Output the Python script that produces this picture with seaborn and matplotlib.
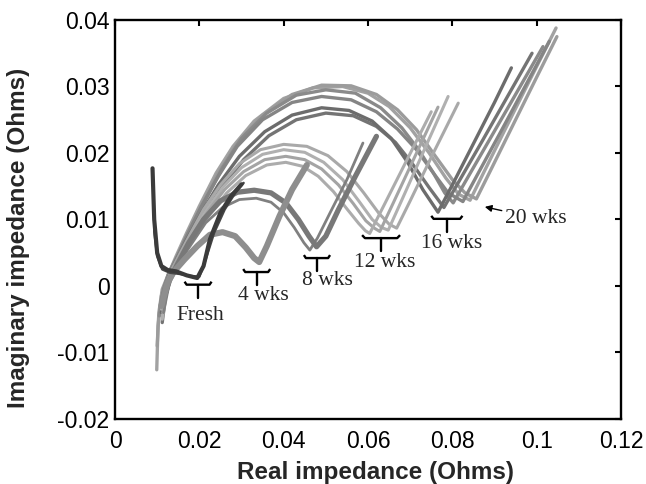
import matplotlib
matplotlib.use("Agg")
import matplotlib.pyplot as plt
import seaborn as sns
import pandas as pd

# ---------------- data ----------------
fresh_a_x = [0.0089, 0.0093, 0.0100, 0.0110, 0.0125, 0.0145, 0.0170, 0.0195, 0.0210, 0.0225, 0.0250, 0.0275, 0.0300]
fresh_a_y = [0.0177, 0.0100, 0.0050, 0.0030, 0.0024, 0.0022, 0.0016, 0.0012, 0.0030, 0.0070, 0.0110, 0.0135, 0.0153]
fresh_b_x = [0.0093, 0.0100, 0.0112, 0.0130, 0.0155, 0.0180, 0.0200, 0.0215, 0.0235, 0.0260, 0.0285, 0.0305]
fresh_b_y = [0.0083, 0.0045, 0.0025, 0.0020, 0.0018, 0.0015, 0.0014, 0.0040, 0.0080, 0.0115, 0.0140, 0.0155]

wk4_x = [0.0110, 0.0125, 0.0140, 0.0165, 0.0195, 0.0225, 0.0255, 0.0285, 0.0310, 0.0330, 0.0342, 0.0360, 0.0390, 0.0420, 0.0455]
wk4_y = [-0.0030, 0.0005, 0.0022, 0.0040, 0.0060, 0.0077, 0.0081, 0.0075, 0.0058, 0.0042, 0.0036, 0.0060, 0.0105, 0.0145, 0.0182]

wk8_a_x = [0.0115, 0.0130, 0.0150, 0.0175, 0.0210, 0.0250, 0.0290, 0.0330, 0.0370, 0.0405, 0.0435, 0.0460, 0.0478, 0.0500, 0.0530, 0.0570, 0.0620]
wk8_a_y = [-0.0020, 0.0010, 0.0035, 0.0065, 0.0100, 0.0128, 0.0141, 0.0144, 0.0140, 0.0125, 0.0100, 0.0075, 0.0059, 0.0075, 0.0115, 0.0165, 0.0225]
wk8_b_x = [0.0115, 0.0130, 0.0150, 0.0180, 0.0215, 0.0255, 0.0295, 0.0335, 0.0370, 0.0400, 0.0425, 0.0448, 0.0462, 0.0480, 0.0510, 0.0550, 0.0588]
wk8_b_y = [-0.0040, 0.0008, 0.0033, 0.0062, 0.0095, 0.0118, 0.0130, 0.0132, 0.0126, 0.0110, 0.0088, 0.0065, 0.0054, 0.0072, 0.0110, 0.0160, 0.0215]

wk12_a_x = [0.0110, 0.0120, 0.0135, 0.0155, 0.0180, 0.0210, 0.0250, 0.0295, 0.0345, 0.0400, 0.0455, 0.0505, 0.0550, 0.0590, 0.0625, 0.0650, 0.0668, 0.0700, 0.0755, 0.0814]
wk12_a_y = [-0.0035, 0.0000, 0.0025, 0.0050, 0.0080, 0.0115, 0.0152, 0.0184, 0.0205, 0.0213, 0.0210, 0.0196, 0.0172, 0.0140, 0.0110, 0.0093, 0.0087, 0.0128, 0.0200, 0.0275]
wk12_b_x = [0.0112, 0.0122, 0.0137, 0.0158, 0.0184, 0.0215, 0.0255, 0.0300, 0.0350, 0.0400, 0.0450, 0.0495, 0.0540, 0.0578, 0.0610, 0.0632, 0.0648, 0.0680, 0.0735, 0.0790]
wk12_b_y = [-0.0050, -0.0008, 0.0022, 0.0048, 0.0078, 0.0112, 0.0148, 0.0178, 0.0198, 0.0205, 0.0201, 0.0186, 0.0160, 0.0128, 0.0100, 0.0088, 0.0084, 0.0129, 0.0207, 0.0285]
wk12_c_x = [0.0113, 0.0123, 0.0138, 0.0160, 0.0187, 0.0220, 0.0260, 0.0305, 0.0355, 0.0405, 0.0450, 0.0490, 0.0530, 0.0565, 0.0595, 0.0615, 0.0628, 0.0660, 0.0710, 0.0766]
wk12_c_y = [-0.0025, 0.0005, 0.0028, 0.0052, 0.0080, 0.0112, 0.0145, 0.0172, 0.0190, 0.0195, 0.0190, 0.0176, 0.0152, 0.0124, 0.0098, 0.0087, 0.0082, 0.0125, 0.0193, 0.0269]
wk12_d_x = [0.0114, 0.0124, 0.0140, 0.0162, 0.0190, 0.0225, 0.0265, 0.0310, 0.0360, 0.0405, 0.0445, 0.0482, 0.0518, 0.0550, 0.0578, 0.0594, 0.0604, 0.0640, 0.0695, 0.0750]
wk12_d_y = [-0.0040, -0.0003, 0.0025, 0.0050, 0.0078, 0.0108, 0.0140, 0.0166, 0.0182, 0.0186, 0.0180, 0.0165, 0.0142, 0.0116, 0.0094, 0.0083, 0.0079, 0.0124, 0.0193, 0.0262]

wk16_a_x = [0.0110, 0.0118, 0.0130, 0.0148, 0.0172, 0.0205, 0.0245, 0.0295, 0.0355, 0.0420, 0.0490, 0.0555, 0.0610, 0.0655, 0.0695, 0.0730, 0.0766, 0.0800, 0.0850, 0.0900, 0.0940]
wk16_a_y = [-0.0040, -0.0010, 0.0018, 0.0042, 0.0072, 0.0110, 0.0152, 0.0195, 0.0232, 0.0257, 0.0268, 0.0264, 0.0248, 0.0222, 0.0185, 0.0145, 0.0111, 0.0152, 0.0214, 0.0276, 0.0328]
wk16_b_x = [0.0112, 0.0120, 0.0133, 0.0152, 0.0178, 0.0212, 0.0255, 0.0305, 0.0365, 0.0430, 0.0500, 0.0565, 0.0620, 0.0665, 0.0705, 0.0745, 0.0780, 0.0820, 0.0870, 0.0930, 0.0989]
wk16_b_y = [-0.0055, -0.0015, 0.0015, 0.0040, 0.0070, 0.0108, 0.0150, 0.0190, 0.0226, 0.0250, 0.0260, 0.0256, 0.0240, 0.0216, 0.0184, 0.0148, 0.0118, 0.0162, 0.0217, 0.0284, 0.0350]

wk20_a_x = [0.0099, 0.0102, 0.0110, 0.0125, 0.0145, 0.0170, 0.0200, 0.0240, 0.0280, 0.0330, 0.0400, 0.0470, 0.0540, 0.0600, 0.0650, 0.0700, 0.0745, 0.0785, 0.0815, 0.0842, 0.0870, 0.0920, 0.0980, 0.1046]
wk20_a_y = [-0.0126, -0.0060, -0.0015, 0.0015, 0.0045, 0.0080, 0.0120, 0.0170, 0.0210, 0.0248, 0.0282, 0.0298, 0.0300, 0.0290, 0.0270, 0.0238, 0.0200, 0.0162, 0.0138, 0.0129, 0.0165, 0.0229, 0.0305, 0.0388]
wk20_b_x = [0.0105, 0.0110, 0.0120, 0.0135, 0.0155, 0.0180, 0.0215, 0.0255, 0.0300, 0.0360, 0.0430, 0.0500, 0.0570, 0.0630, 0.0680, 0.0720, 0.0755, 0.0782, 0.0802, 0.0830, 0.0880, 0.0940, 0.1015]
wk20_b_y = [-0.0045, -0.0020, 0.0005, 0.0025, 0.0050, 0.0085, 0.0130, 0.0178, 0.0222, 0.0260, 0.0287, 0.0295, 0.0290, 0.0268, 0.0238, 0.0205, 0.0170, 0.0140, 0.0125, 0.0156, 0.0211, 0.0277, 0.0360]
wk20_c_x = [0.0100, 0.0104, 0.0112, 0.0128, 0.0150, 0.0175, 0.0205, 0.0245, 0.0290, 0.0350, 0.0420, 0.0490, 0.0560, 0.0620, 0.0670, 0.0715, 0.0760, 0.0800, 0.0830, 0.0857, 0.0890, 0.0950, 0.1000, 0.1048]
wk20_c_y = [-0.0090, -0.0040, -0.0005, 0.0020, 0.0048, 0.0082, 0.0122, 0.0170, 0.0215, 0.0257, 0.0288, 0.0302, 0.0301, 0.0288, 0.0265, 0.0235, 0.0195, 0.0160, 0.0140, 0.0131, 0.0173, 0.0250, 0.0314, 0.0375]
wk20_d_x = [0.0108, 0.0115, 0.0128, 0.0148, 0.0172, 0.0205, 0.0245, 0.0290, 0.0350, 0.0420, 0.0490, 0.0560, 0.0620, 0.0670, 0.0715, 0.0755, 0.0790, 0.0825, 0.0860, 0.0920, 0.0975, 0.1030]
wk20_d_y = [-0.0030, -0.0005, 0.0020, 0.0045, 0.0078, 0.0120, 0.0165, 0.0210, 0.0250, 0.0276, 0.0285, 0.0280, 0.0262, 0.0236, 0.0205, 0.0170, 0.0140, 0.0127, 0.0168, 0.0238, 0.0303, 0.0368]

curve_names = ["wk20_a", "wk20_c", "wk20_b", "wk20_d", "wk16_b", "wk16_a",
               "wk12_a", "wk12_b", "wk12_c", "wk12_d",
               "wk8_b", "wk8_a", "wk4", "fresh_b", "fresh_a"]
curve_data = {
    "fresh_a": (fresh_a_x, fresh_a_y), "fresh_b": (fresh_b_x, fresh_b_y),
    "wk4": (wk4_x, wk4_y),
    "wk8_a": (wk8_a_x, wk8_a_y), "wk8_b": (wk8_b_x, wk8_b_y),
    "wk12_a": (wk12_a_x, wk12_a_y), "wk12_b": (wk12_b_x, wk12_b_y),
    "wk12_c": (wk12_c_x, wk12_c_y), "wk12_d": (wk12_d_x, wk12_d_y),
    "wk16_a": (wk16_a_x, wk16_a_y), "wk16_b": (wk16_b_x, wk16_b_y),
    "wk20_a": (wk20_a_x, wk20_a_y), "wk20_b": (wk20_b_x, wk20_b_y),
    "wk20_c": (wk20_c_x, wk20_c_y), "wk20_d": (wk20_d_x, wk20_d_y),
}

x_ticks = [0, 0.02, 0.04, 0.06, 0.08, 0.10, 0.12]
x_tick_labels = ["0", "0.02", "0.04", "0.06", "0.08", "0.1", "0.12"]
y_ticks = [-0.02, -0.01, 0, 0.01, 0.02, 0.03, 0.04]
y_tick_labels = ["-0.02", "-0.01", "0", "0.01", "0.02", "0.03", "0.04"]

# group labels: (text, bracket centre x, bracket half width, bracket y, text x, text y)
bracket_labels = [
    ("Fresh", 0.0197, 0.0032, 0.0002, 0.0202, -0.0044),
    ("4 wks", 0.0336, 0.0032, 0.0021, 0.0351, -0.0014),
    ("8 wks", 0.0479, 0.0031, 0.0042, 0.0503, 0.0009),
    ("12 wks", 0.0631, 0.0045, 0.0072, 0.0640, 0.0036),
    ("16 wks", 0.0787, 0.0037, 0.0101, 0.0799, 0.0064),
]
arrow_label = ("20 wks", 0.0925, 0.0102, 0.0877, 0.0119)

# ---------------- styles ----------------
styles = {
    "fresh_a": ("#3b3b3b", 3.0), "fresh_b": ("#474747", 1.8),
    "wk4": ("#8e8e8e", 4.4),
    "wk8_a": ("#787878", 3.8), "wk8_b": ("#808080", 2.0),
    "wk12_a": ("#a9a9a9", 2.2), "wk12_b": ("#b0b0b0", 2.2),
    "wk12_c": ("#a4a4a4", 2.2), "wk12_d": ("#acacac", 2.2),
    "wk16_a": ("#6c6c6c", 2.4), "wk16_b": ("#747474", 2.4),
    "wk20_a": ("#a2a2a2", 2.4), "wk20_b": ("#8a8a8a", 2.4),
    "wk20_c": ("#9c9c9c", 2.4), "wk20_d": ("#858585", 2.4),
}

sns.set_style("white")
plt.rcParams["font.family"] = ["Liberation Sans", "DejaVu Sans"]

fig = plt.figure(figsize=(6.46, 4.84), dpi=100)
ax = fig.add_axes([115 / 646, 1 - 419 / 484, 506 / 646, 399 / 484])

for name in curve_names:
    xs, ys = curve_data[name]
    df = pd.DataFrame({"x": xs, "y": ys})
    col, lw = styles[name]
    sns.lineplot(data=df, x="x", y="y", sort=False, estimator=None, color=col,
                 linewidth=lw, ax=ax, solid_joinstyle="round", solid_capstyle="round")

# brackets and labels
serif = "Liberation Serif"
up = 0.00045
stem = 0.0020
for text, cx, hw, by, tx, ty in bracket_labels:
    ax.plot([cx - hw, cx - hw * 0.85, cx + hw * 0.85, cx + hw],
            [by + up, by, by, by + up], color="black", lw=1.7, solid_capstyle="butt")
    ax.plot([cx, cx], [by, by - stem], color="black", lw=1.7)
    ax.text(tx, ty, text, ha="center", va="center", fontsize=15.5, family=serif)

t, tx, ty, hx, hy = arrow_label
ax.annotate(t, xy=(hx, hy), xytext=(tx, ty), ha="left", va="center",
            fontsize=15.5, family=serif,
            arrowprops=dict(arrowstyle="-|>", color="black", lw=1.0,
                            mutation_scale=10, shrinkA=0, shrinkB=0))

ax.set_xlim(0, 0.12)
ax.set_ylim(-0.02, 0.04)
ax.set_xticks(x_ticks)
ax.set_xticklabels(x_tick_labels)
ax.set_yticks(y_ticks)
ax.set_yticklabels(y_tick_labels)
ax.tick_params(direction="in", length=4, width=1.5, top=True, right=True,
               labelsize=16.5, colors="black")
ax.tick_params(axis="x", pad=8)
ax.tick_params(axis="y", pad=4)
for sp in ax.spines.values():
    sp.set_linewidth(1.7)
    sp.set_color("black")
    sp.set_visible(True)

ax.set_xlabel("Real impedance (Ohms)", fontsize=17.5, fontweight="bold")
ax.set_ylabel("Imaginary impedance (Ohms)", fontsize=17.5, fontweight="bold")
ax.xaxis.set_label_coords(0.515, -0.105)
ax.yaxis.set_label_coords(-0.168, 0.455)

fig.savefig("out.png", dpi=100, facecolor="white")
